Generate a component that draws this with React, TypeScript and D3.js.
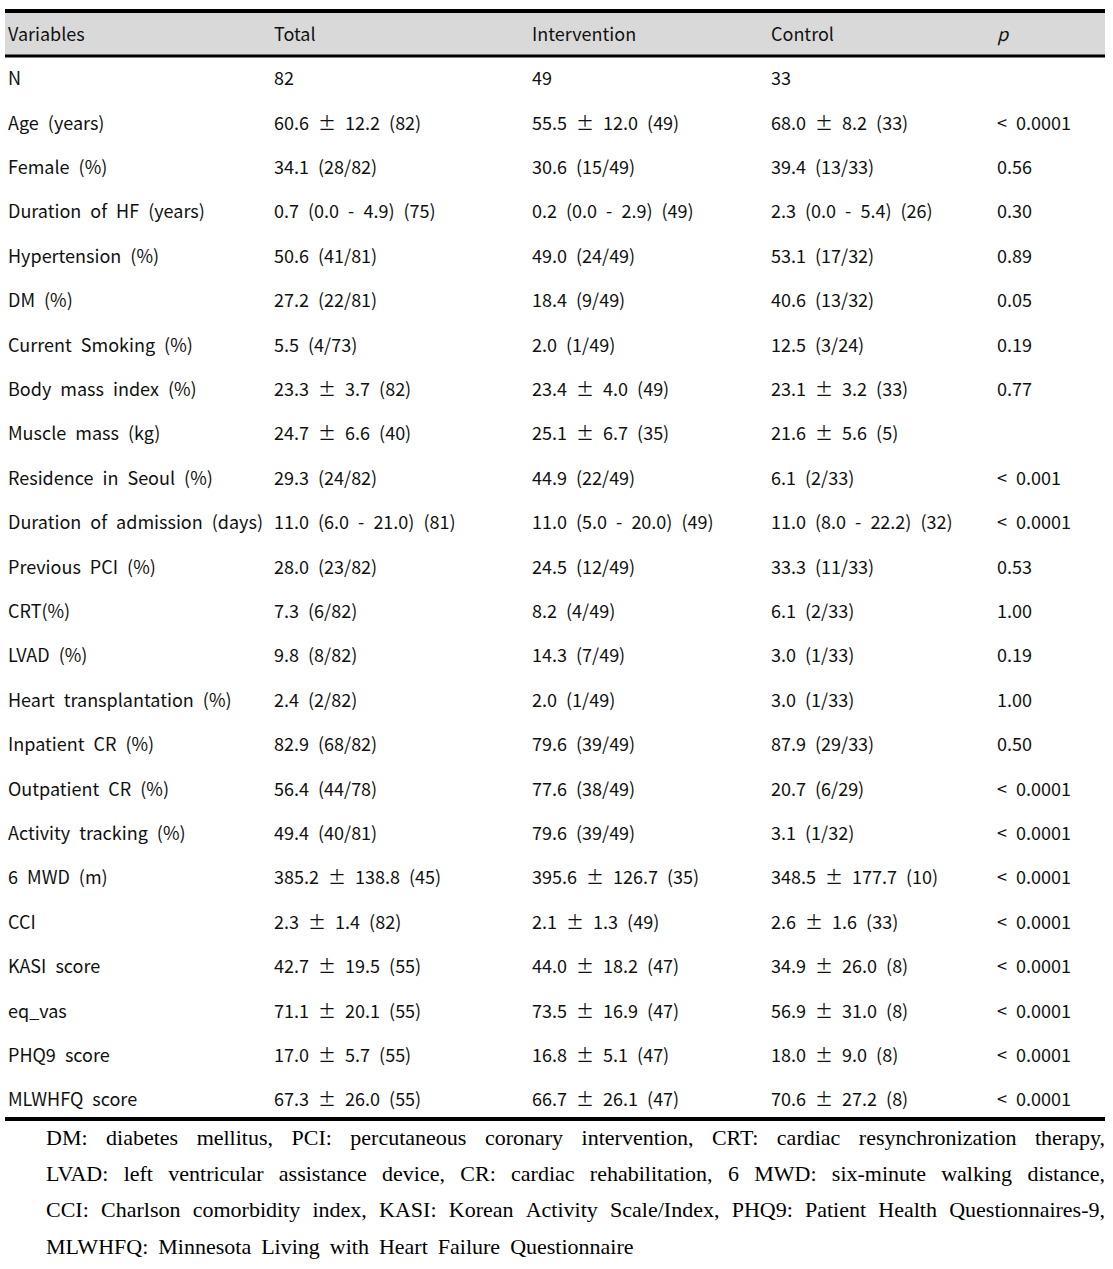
import React, { useEffect, useRef } from "react";
import * as d3 from "d3";

const headers = ["Variables", "Total", "Intervention", "Control", "p"];
const variables = ["N", "Age (years)", "Female (%)", "Duration of HF (years)", "Hypertension (%)", "DM (%)", "Current Smoking (%)", "Body mass index (%)", "Muscle mass (kg)", "Residence in Seoul (%)", "Duration of admission (days)", "Previous PCI (%)", "CRT(%)", "LVAD (%)", "Heart transplantation (%)", "Inpatient CR (%)", "Outpatient CR (%)", "Activity tracking (%)", "6 MWD (m)", "CCI", "KASI score", "eq_vas", "PHQ9 score", "MLWHFQ score"];
const totalCol = ["82", "60.6 ± 12.2 (82)", "34.1 (28/82)", "0.7 (0.0 - 4.9) (75)", "50.6 (41/81)", "27.2 (22/81)", "5.5 (4/73)", "23.3 ± 3.7 (82)", "24.7 ± 6.6 (40)", "29.3 (24/82)", "11.0 (6.0 - 21.0) (81)", "28.0 (23/82)", "7.3 (6/82)", "9.8 (8/82)", "2.4 (2/82)", "82.9 (68/82)", "56.4 (44/78)", "49.4 (40/81)", "385.2 ± 138.8 (45)", "2.3 ± 1.4 (82)", "42.7 ± 19.5 (55)", "71.1 ± 20.1 (55)", "17.0 ± 5.7 (55)", "67.3 ± 26.0 (55)"];
const interventionCol = ["49", "55.5 ± 12.0 (49)", "30.6 (15/49)", "0.2 (0.0 - 2.9) (49)", "49.0 (24/49)", "18.4 (9/49)", "2.0 (1/49)", "23.4 ± 4.0 (49)", "25.1 ± 6.7 (35)", "44.9 (22/49)", "11.0 (5.0 - 20.0) (49)", "24.5 (12/49)", "8.2 (4/49)", "14.3 (7/49)", "2.0 (1/49)", "79.6 (39/49)", "77.6 (38/49)", "79.6 (39/49)", "395.6 ± 126.7 (35)", "2.1 ± 1.3 (49)", "44.0 ± 18.2 (47)", "73.5 ± 16.9 (47)", "16.8 ± 5.1 (47)", "66.7 ± 26.1 (47)"];
const controlCol = ["33", "68.0 ± 8.2 (33)", "39.4 (13/33)", "2.3 (0.0 - 5.4) (26)", "53.1 (17/32)", "40.6 (13/32)", "12.5 (3/24)", "23.1 ± 3.2 (33)", "21.6 ± 5.6 (5)", "6.1 (2/33)", "11.0 (8.0 - 22.2) (32)", "33.3 (11/33)", "6.1 (2/33)", "3.0 (1/33)", "3.0 (1/33)", "87.9 (29/33)", "20.7 (6/29)", "3.1 (1/32)", "348.5 ± 177.7 (10)", "2.6 ± 1.6 (33)", "34.9 ± 26.0 (8)", "56.9 ± 31.0 (8)", "18.0 ± 9.0 (8)", "70.6 ± 27.2 (8)"];
const pCol = ["", "< 0.0001", "0.56", "0.30", "0.89", "0.05", "0.19", "0.77", "", "< 0.001", "< 0.0001", "0.53", "1.00", "0.19", "1.00", "0.50", "< 0.0001", "< 0.0001", "< 0.0001", "< 0.0001", "< 0.0001", "< 0.0001", "< 0.0001", "< 0.0001"];
const footnoteLines = [
  "DM: diabetes mellitus, PCI: percutaneous coronary intervention, CRT: cardiac resynchronization therapy,",
  "LVAD: left ventricular assistance device, CR: cardiac rehabilitation, 6 MWD: six-minute walking distance,",
  "CCI: Charlson comorbidity index, KASI: Korean Activity Scale/Index, PHQ9: Patient Health Questionnaires-9,",
  "MLWHFQ: Minnesota Living with Heart Failure Questionnaire",
];

const W = 1113;
const H = 1269;
const colX = [8, 274, 532, 771, 997];
const tableFont = "'Noto Sans CJK KR', 'Noto Sans', sans-serif";
const noteFont = "'Liberation Serif', 'DejaVu Serif', serif";

export default function App() {
  const noteRef = useRef<SVGGElement>(null);

  const y = d3.scaleLinear().domain([0, variables.length - 1]).range([79, 1100]);
  const noteY = d3.scaleLinear().domain([0, footnoteLines.length - 1]).range([1137, 1246]);
  const columns = [variables, totalCol, interventionCol, controlCol, pCol];

  useEffect(() => {
    const g = d3.select(noteRef.current);
    g.selectAll("*").remove();
    const left = 46, right = 1105;
    footnoteLines.forEach((line, i) => {
      const words = line.split(" ");
      const texts = words.map((w) =>
        g.append("text")
          .attr("y", noteY(i))
          .attr("dy", "0.35em")
          .attr("font-family", noteFont)
          .attr("font-size", 22)
          .attr("fill", "#000")
          .text(w)
      );
      const widths = texts.map((t) => (t.node() as SVGTextElement).getComputedTextLength());
      const total = d3.sum(widths);
      const justify = i < footnoteLines.length - 1;
      const gap = justify ? Math.max(4, (right - left - total) / (words.length - 1)) : 10;
      let x = left;
      texts.forEach((t, k) => {
        t.attr("x", x);
        x += widths[k] + gap;
      });
    });
  }, []);

  return (
    <svg width={W} height={H} style={{ display: "block", position: "absolute", left: 0, top: 0 }}>
      <rect x={0} y={0} width={W} height={H} fill="#fff" />
      <rect x={5} y={13} width={1100} height={42} fill="#d9d9d9" />
      <line x1={5} x2={1105} y1={11} y2={11} stroke="#000" strokeWidth={4} />
      <line x1={5} x2={1105} y1={56} y2={56} stroke="#000" strokeWidth={3} />
      <line x1={5} x2={1105} y1={1119} y2={1119} stroke="#000" strokeWidth={4} />
      {headers.map((h, c) => (
        <text key={h} x={colX[c]} y={35} dy="0.35em" fontFamily={tableFont} fontSize={18}
          fontStyle={c === 4 ? "italic" : "normal"} fill="#111">{h}</text>
      ))}
      {columns.map((col, c) =>
        col.map((v, r) => (
          <text key={c + "-" + r} x={colX[c]} y={y(r)} dy="0.35em" fontFamily={tableFont}
            fontSize={18} wordSpacing={5} fill="#111">{v}</text>
        ))
      )}
      <g ref={noteRef} />
    </svg>
  );
}
